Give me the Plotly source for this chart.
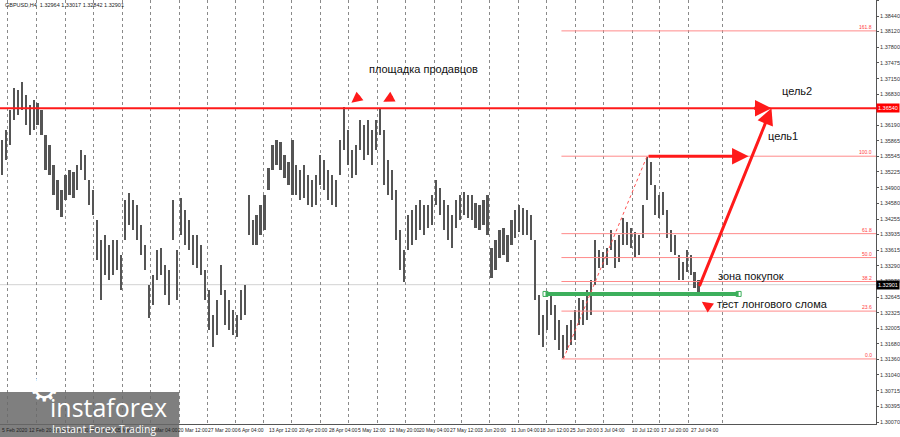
import plotly.graph_objects as go

# ---- data ----
symbol_header = "GBPUSD,H4  1.32964 1.33017 1.32842 1.32901"

bar_high = [
    1.3589, 1.3609, 1.3650, 1.3696, 1.3692, 1.3708, 1.3681, 1.3661, 1.3671, 1.3665,
    1.3650, 1.3599, 1.3578, 1.3537, 1.3506, 1.3486, 1.3516, 1.3527, 1.3523, 1.3537,
    1.3568, 1.3558, 1.3506, 1.3486, 1.3424, 1.3383, 1.3393, 1.3372, 1.3383, 1.3383,
    1.3352, 1.3465, 1.3479, 1.3465, 1.3455, 1.3413, 1.3372, 1.3290, 1.3310, 1.3362,
    1.3366, 1.3331, 1.3321, 1.3465, 1.3362, 1.3469, 1.3444, 1.3424, 1.3393, 1.3393,
    1.3372, 1.3321, 1.3279, 1.3228, 1.3259, 1.3331, 1.3279, 1.3259, 1.3238, 1.3228,
    1.3279, 1.3290, 1.3475, 1.3424, 1.3434, 1.3455, 1.3475, 1.3531, 1.3578, 1.3589,
    1.3584, 1.3558, 1.3543, 1.3589, 1.3537, 1.3527, 1.3537, 1.3516, 1.3506, 1.3516,
    1.3558, 1.3547, 1.3527, 1.3516, 1.3506, 1.3589, 1.3657, 1.3609, 1.3568, 1.3578,
    1.3630, 1.3619, 1.3630, 1.3609, 1.3630, 1.3655, 1.3609, 1.3547, 1.3527, 1.3486,
    1.3403, 1.3362, 1.3434, 1.3444, 1.3455, 1.3465, 1.3455, 1.3455, 1.3475, 1.3506,
    1.3490, 1.3465, 1.3455, 1.3434, 1.3465, 1.3475, 1.3481, 1.3475, 1.3475, 1.3459,
    1.3455, 1.3465, 1.3475, 1.3366, 1.3383, 1.3403, 1.3407, 1.3393, 1.3424, 1.3444,
    1.3455, 1.3448, 1.3444, 1.3434, 1.3383, 1.3269, 1.3228, 1.3259, 1.3273, 1.3249,
    1.3218, 1.3187, 1.3207, 1.3218, 1.3238, 1.3263, 1.3259, 1.3279, 1.3300, 1.3383,
    1.3362, 1.3358, 1.3366, 1.3403, 1.3383, 1.3393, 1.3428, 1.3420, 1.3407, 1.3399,
    1.3393, 1.3455, 1.3553, 1.3543, 1.3496, 1.3475, 1.3481, 1.3444, 1.3403, 1.3393,
    1.3352, 1.3337, 1.3362, 1.3352, 1.3317, 1.3300,
]
bar_low = [
    1.3516, 1.3547, 1.3578, 1.3630, 1.3640, 1.3650, 1.3619, 1.3599, 1.3609, 1.3619,
    1.3599, 1.3527, 1.3516, 1.3475, 1.3444, 1.3430, 1.3465, 1.3475, 1.3469, 1.3486,
    1.3527, 1.3506, 1.3455, 1.3434, 1.3341, 1.3259, 1.3310, 1.3300, 1.3310, 1.3321,
    1.3279, 1.3383, 1.3413, 1.3403, 1.3383, 1.3352, 1.3321, 1.3222, 1.3249, 1.3300,
    1.3310, 1.3269, 1.3249, 1.3383, 1.3259, 1.3393, 1.3372, 1.3362, 1.3331, 1.3325,
    1.3310, 1.3259, 1.3197, 1.3162, 1.3187, 1.3269, 1.3207, 1.3197, 1.3187, 1.3183,
    1.3218, 1.3228, 1.3393, 1.3372, 1.3372, 1.3393, 1.3403, 1.3486, 1.3527, 1.3537,
    1.3527, 1.3510, 1.3496, 1.3475, 1.3475, 1.3465, 1.3469, 1.3455, 1.3451, 1.3455,
    1.3496, 1.3486, 1.3465, 1.3455, 1.3451, 1.3516, 1.3568, 1.3537, 1.3510, 1.3516,
    1.3568, 1.3547, 1.3558, 1.3537, 1.3568, 1.3599, 1.3496, 1.3475, 1.3465, 1.3383,
    1.3321, 1.3296, 1.3362, 1.3372, 1.3383, 1.3403, 1.3393, 1.3407, 1.3413, 1.3455,
    1.3434, 1.3403, 1.3383, 1.3366, 1.3407, 1.3424, 1.3434, 1.3428, 1.3424, 1.3407,
    1.3403, 1.3413, 1.3393, 1.3304, 1.3321, 1.3346, 1.3352, 1.3337, 1.3372, 1.3387,
    1.3399, 1.3393, 1.3393, 1.3383, 1.3259, 1.3187, 1.3162, 1.3197, 1.3228, 1.3177,
    1.3156, 1.3139, 1.3156, 1.3166, 1.3177, 1.3207, 1.3207, 1.3218, 1.3228, 1.3290,
    1.3325, 1.3325, 1.3331, 1.3362, 1.3325, 1.3337, 1.3372, 1.3372, 1.3366, 1.3348,
    1.3352, 1.3387, 1.3465, 1.3496, 1.3434, 1.3428, 1.3434, 1.3387, 1.3358, 1.3352,
    1.3300, 1.3300, 1.3317, 1.3310, 1.3284, 1.3271,
]

price_ticks = [1.38765, 1.38440, 1.38120, 1.37800, 1.37475, 1.37150, 1.36830,
               1.36190, 1.35865, 1.35545, 1.35225, 1.34900, 1.34580, 1.34255,
               1.33935, 1.33615, 1.33290, 1.32970, 1.32645, 1.32325, 1.32005,
               1.31680, 1.31360, 1.31040, 1.30715, 1.30395, 1.30070]

time_labels = ["5 Feb 2020", "12 Feb 20:00", "20 Feb 04:00", "27 Feb 12:00",
               "5 Mar 20:00", "13 Mar 04:00", "20 Mar 12:00", "27 Mar 20:00",
               "6 Apr 04:00", "13 Apr 12:00", "20 Apr 20:00", "28 Apr 04:00",
               "5 May 12:00", "12 May 20:00", "20 May 04:00", "27 May 12:00",
               "3 Jun 20:00", "11 Jun 04:00", "18 Jun 12:00", "25 Jun 20:00",
               "3 Jul 04:00", "10 Jul 12:00", "17 Jul 20:00", "27 Jul 04:00"]
time_label_bar = [-0.5, 6.25, 13.75, 21.25, 28.75, 36.25, 43.75, 51.25, 58.75,
                  66.5, 74, 81.5, 89, 96.75, 104.25, 112, 119.5, 127.25, 134.5,
                  142.25, 149.75, 157.75, 165, 172.5]
grid_bar = [1.5, 8.75, 16, 23, 30.25, 37.25, 44.5, 51.5, 58.75, 65.75, 72.75, 80,
            87, 94.25, 101.25, 108.5, 115.5, 122.5, 129.75, 136.75, 144, 151,
            158.25, 165.25, 172.5, 181]

resistance = 1.36540
last_price = 1.32901
support = 1.32710
support_from, support_to = 136.5, 185
fib_low, fib_high = 1.3137, 1.3555
fib_low_bar, fib_high_bar = 141, 162
fib_ratios = [0.0, 0.236, 0.382, 0.5, 0.618, 1.0, 1.618]

x_min, x_max = -0.5, 219.5
y_min, y_max = 1.30029, 1.38770

RED = "#ff1a1a"
FIB = "#ff8a8a"
GREEN = "#3daf5c"
SMALL = "Liberation Sans, Arial, sans-serif"

fig = go.Figure()

bars = list(range(len(bar_high)))
fig.add_trace(go.Bar(
    x=bars, base=bar_low,
    y=[h - l for h, l in zip(bar_high, bar_low)],
    width=0.42, marker=dict(color="#555555", line=dict(width=0)),
    hoverinfo="skip",
))

# support (green) with its handles
fig.add_trace(go.Scatter(
    x=[support_from, support_to], y=[support, support], mode="lines",
    line=dict(color=GREEN, width=4), hoverinfo="skip",
))
fig.add_trace(go.Scatter(
    x=[support_from, support_to], y=[support, support], mode="markers",
    marker=dict(symbol="square-open", size=5, color=GREEN, line=dict(width=1)),
    hoverinfo="skip",
))

shapes = []
# resistance and current price lines
shapes.append(dict(type="line", xref="paper", x0=0, x1=1, yref="y", y0=last_price, y1=last_price,
                   line=dict(color="#d2d2d2", width=1), layer="below"))
shapes.append(dict(type="line", xref="paper", x0=0, x1=1, yref="y", y0=resistance, y1=resistance,
                   line=dict(color=RED, width=2)))

# fibonacci grid
fib_levels = [fib_low + r * (fib_high - fib_low) for r in fib_ratios]
for lvl in fib_levels:
    shapes.append(dict(type="line", xref="x", x0=fib_low_bar - 0.5, x1=x_max, yref="y", y0=lvl, y1=lvl,
                       line=dict(color=FIB, width=1)))
shapes.append(dict(type="line", xref="x", yref="y", x0=fib_low_bar, y0=fib_low, x1=fib_high_bar, y1=fib_high,
                   line=dict(color="#ff5050", width=1, dash="dot")))

# logo box
shapes.append(dict(type="rect", xref="paper", yref="paper", x0=0, x1=180 / 880, y0=-13 / 424, y1=32 / 424,
                   fillcolor="rgba(105,105,105,0.85)", line=dict(width=0), layer="above"))

ann = []
for r, lvl in zip(fib_ratios, fib_levels):
    ann.append(dict(xref="paper", x=0.998, yref="y", y=lvl, text=f"{r * 100:.1f}", showarrow=False,
                    xanchor="right", yanchor="bottom", yshift=-1,
                    font=dict(family=SMALL, size=5, color="#ff3c3c")))

for txt, pos in zip(time_labels, time_label_bar):
    ann.append(dict(xref="x", x=pos, yref="paper", y=0, text=txt, showarrow=False,
                    xanchor="left", yanchor="top", yshift=-1,
                    font=dict(family=SMALL, size=5, color="#222")))

# price boxes on the scale
ann.append(dict(xref="paper", x=1, yref="y", y=resistance, text=f"{resistance:.5f}", showarrow=False,
                xanchor="left", yanchor="middle", bgcolor="#ff0000", borderpad=1,
                font=dict(family=SMALL, size=5.5, color="white")))
ann.append(dict(xref="paper", x=1, yref="y", y=last_price, text=f"{last_price:.5f}", showarrow=False,
                xanchor="left", yanchor="middle", bgcolor="#000000", borderpad=1,
                font=dict(family=SMALL, size=5.5, color="white")))

ann.append(dict(xref="paper", x=0.003, yref="paper", y=1, text=symbol_header, showarrow=False,
                xanchor="left", yanchor="top", font=dict(family=SMALL, size=5.5, color="#222")))

# trade idea arrows
arrow = dict(showarrow=True, text="", arrowhead=2, arrowsize=1.1, arrowwidth=3, arrowcolor=RED,
             axref="x", ayref="y", xref="x", yref="y", standoff=0)
ann.append(dict(arrow, x=187.5, y=fib_high, ax=fib_high_bar, ay=fib_high))
ann.append(dict(arrow, x=193.25, y=resistance, ax=bars[-1], ay=1.3284))
ann.append(dict(arrow, x=193.25, y=resistance, ax=188.5, ay=resistance))

pointer = dict(showarrow=True, text="", arrowhead=2, arrowsize=1.1, arrowwidth=2, arrowcolor=RED,
               xref="x", yref="y", standoff=0)
ann.append(dict(pointer, x=87.75, y=1.3665, ax=10, ay=-8))
ann.append(dict(pointer, x=95.75, y=1.3667, ax=11, ay=-6))
ann.append(dict(pointer, x=175.75, y=1.3255, ax=10, ay=7))

label_font = dict(family="Liberation Sans, Arial, sans-serif", size=11, color="#111")
for txt, bx, py in [("площадка продавцов", 105.75, 1.3735), ("цель2", 199.75, 1.3690),
                    ("цель1", 196.25, 1.3597), ("зона покупок", 188, 1.3308),
                    ("тест лонгового слома", 193.5, 1.3251)]:
    ann.append(dict(x=bx, y=py, xref="x", yref="y", text=txt, showarrow=False, font=label_font))

# logo text
ann.append(dict(xref="paper", yref="paper", x=27 / 880, y=13 / 424, text="⚙", showarrow=False,
                font=dict(family="DejaVu Sans", size=34, color="white")))
ann.append(dict(xref="paper", yref="paper", x=48 / 880, y=17 / 424, text="instaforex", showarrow=False,
                xanchor="left", yanchor="middle", font=dict(family="Open Sans", size=25, color="white")))
ann.append(dict(xref="paper", yref="paper", x=50 / 880, y=-5 / 424, text="Instant Forex Trading",
                showarrow=False, xanchor="left", yanchor="middle",
                font=dict(family="Open Sans", size=10.5, color="white")))

fig.update_layout(
    width=900, height=437,
    margin=dict(l=0, r=20, t=0, b=13),
    paper_bgcolor="white", plot_bgcolor="white",
    showlegend=False, bargap=0,
    font=dict(family=SMALL, size=6, color="#222"),
    shapes=shapes, annotations=ann,
    xaxis=dict(range=[x_min, x_max], tickvals=grid_bar, showticklabels=False, ticks="",
               showgrid=True, gridcolor="#8a8a8a", griddash="dot", gridwidth=1,
               zeroline=False, showline=True, linecolor="#555", fixedrange=True),
    yaxis=dict(range=[y_min, y_max], side="right", tickvals=price_ticks, tickformat=".5f",
               showgrid=False, zeroline=False, showline=True, linecolor="#555",
               ticks="outside", ticklen=2, tickcolor="#555",
               tickfont=dict(family=SMALL, size=5.5, color="#333"), fixedrange=True),
)

fig.write_html("out.html", config={"displayModeBar": False},
               post_script="document.body.style.margin='0';document.body.style.overflow='hidden';")
